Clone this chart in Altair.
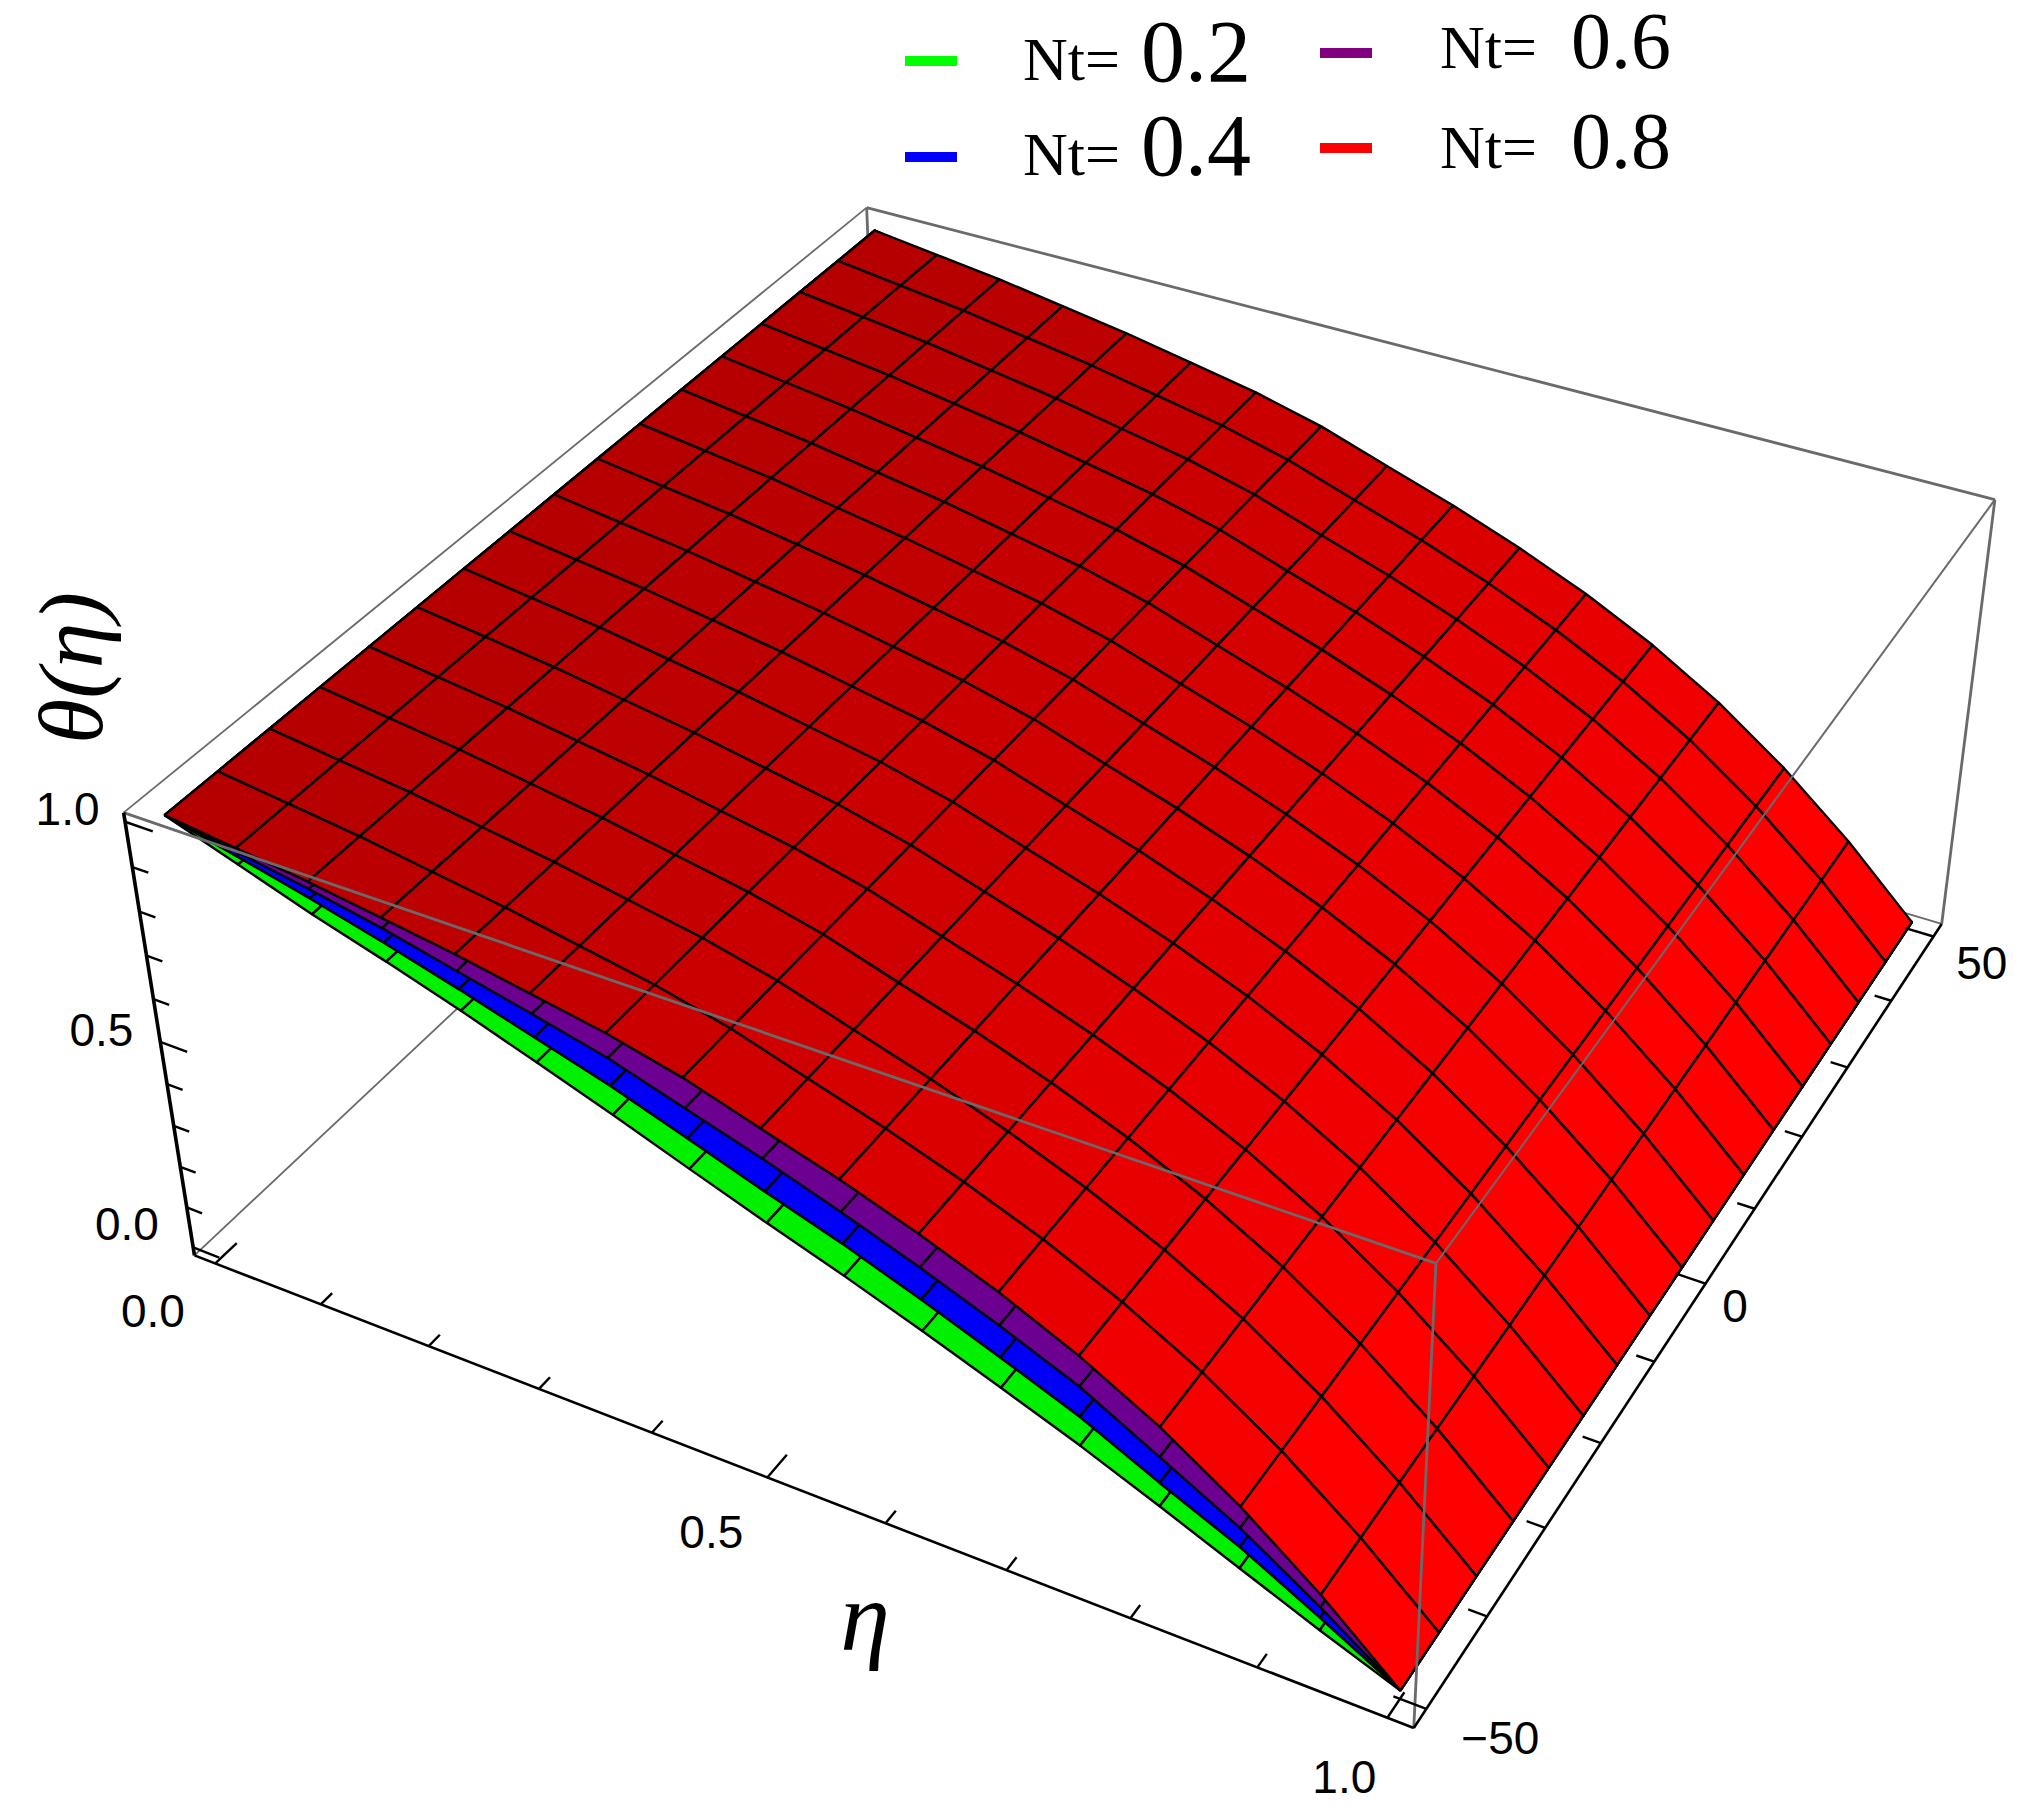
import numpy as np
import pandas as pd
import altair as alt

W, H = 2014, 1796
PAD = 0.02

# values
eta_grid = [0, .0625, .125, .1875, .25, .3125, .375, .4375, .5, .5625, .625, .6875, .75, .8125, .875, .9375, 1]
xi_grid = [-50, -43.75, -37.5, -31.25, -25, -18.75, -12.5, -6.25, 0, 6.25, 12.5, 18.75, 25, 31.25, 37.5, 43.75, 50]
theta_02 = [1, .944, .888, .838, .785, .727, .668, .606, .545, .487, .425, .36, .293, .22, .145, .07, 0]
theta_04 = [1, .962, .923, .88, .833, .783, .733, .675, .616, .56, .497, .43, .36, .275, .195, .1, 0]
theta_06 = [1, .972, .944, .912, .873, .835, .795, .742, .69, .632, .57, .503, .43, .335, .24, .125, 0]
theta_08 = [1, .98, .96, .935, .91, .88, .85, .81, .757, .705, .646, .579, .5, .405, .29, .155, 0]
nt_labels = ["0.2", "0.4", "0.6", "0.8"]
nt_colors = ["#00f000", "#0000f8", "#6c0090", "#ff0000"]
legend_colors = ["#00ff00", "#0000ff", "#800080", "#ff0000"]
eta_ticks = [0, .1, .2, .3, .4, .5, .6, .7, .8, .9, 1]
xi_ticks = [-50, -40, -30, -20, -10, 0, 10, 20, 30, 40, 50]
theta_ticks = [0, .1, .2, .3, .4, .5, .6, .7, .8, .9, 1]

# box corners seen in the image (u=eta, v=xi, w=theta in the unit box) -> full image pixels
S = 2030 / 1568
corners = [
    ((0, 0, 1), (95, 630)), ((0, 1, 1), (670, 160)), ((1, 1, 1), (1540, 385)), ((1, 0, 1), (1110, 975)),
    ((0, 0, 0), (150, 968)), ((1, 0, 0), (1092, 1335)), ((1, 1, 0), (1500, 715)),
]
rows, rhs = [], []
for (u, v, w), (sx, sy) in corners:
    X, Y = sx * S, sy * S
    rows.append([u, v, w, 1, 0, 0, 0, 0, -X * u, -X * v, -X * w]); rhs.append(X)
    rows.append([0, 0, 0, 0, u, v, w, 1, -Y * u, -Y * v, -Y * w]); rhs.append(Y)
P = np.linalg.lstsq(np.array(rows, float), np.array(rhs, float), rcond=None)[0]
P = np.append(P, 1).reshape(3, 4)


def cube(u, v, w):
    q = P @ np.array([u, v, w, 1.0])
    return float(q[0] / q[2]) - 8, float(q[1] / q[2]) - 8


def data3d(eta, xi, th):
    return cube((eta + PAD) / (1 + 2 * PAD), ((xi + 50) / 100 + PAD) / (1 + 2 * PAD), (th + PAD) / (1 + 2 * PAD))


def shade(eta):
    return "#%02x0000" % int(182 + 73 * min(1, eta / 0.9) ** 1.6)


features = []
for curve, base in zip([theta_02, theta_04, theta_06, theta_08], nt_colors):
    for j in range(len(xi_grid) - 2, -1, -1):
        for i in range(len(eta_grid) - 1):
            e0, e1 = eta_grid[i], eta_grid[i + 1]
            x0, x1 = xi_grid[j], xi_grid[j + 1]
            t0, t1 = curve[i], curve[i + 1]
            ring = [data3d(e0, x0, t0), data3d(e1, x0, t1), data3d(e1, x1, t1), data3d(e0, x1, t0), data3d(e0, x0, t0)]
            fill = shade((e0 + e1) / 2) if base == "#ff0000" else base
            features.append({"type": "Feature",
                             "geometry": {"type": "Polygon", "coordinates": [[list(p) for p in ring]]},
                             "properties": {"fill": fill}})

surface = alt.Chart(alt.Data(values=features)).mark_geoshape(
    stroke="#000000", strokeWidth=2.4, strokeJoin="bevel"
).encode(
    color=alt.Color("properties.fill:N", scale=None)
).project(type="identity", scale=1, translate=[0, 0])

xs = alt.Scale(domain=[0, W], range=[0, W], nice=False, zero=False)
ys = alt.Scale(domain=[0, H], range=[0, H], nice=False, zero=False)


def seg_df(pairs):
    out = []
    for a, b in pairs:
        pa, pb = cube(*a), cube(*b)
        out.append({"x": pa[0], "y": pa[1], "x2": pb[0], "y2": pb[1]})
    return pd.DataFrame(out)


def rules(df, color, width):
    return alt.Chart(df).mark_rule(stroke=color, strokeWidth=width).encode(
        x=alt.X("x:Q", scale=xs, axis=None), y=alt.Y("y:Q", scale=ys, axis=None), x2="x2:Q", y2="y2:Q")


back = rules(seg_df([((0, 0, 1), (0, 1, 1)), ((0, 0, 0), (0, 1, 0)), ((0, 1, 0), (1, 1, 0))]), "#6a6a6a", 1.8)
back2 = rules(seg_df([((0, 1, 1), (1, 1, 1)), ((0, 1, 1), (0, 1, 0)), ((1, 1, 1), (1, 1, 0))]), "#6a6a6a", 2.8)
front = rules(seg_df([((0, 0, 1), (1, 0, 1)), ((1, 0, 1), (1, 0, 0))]), "#6a6a6a", 2.8)
front2 = rules(seg_df([((1, 0, 1), (1, 1, 1))]), "#6a6a6a", 2.0)
axes_seg = rules(seg_df([((0, 0, 0), (1, 0, 0)), ((1, 0, 0), (1, 1, 0))]), "#000000", 2.6)
axis_z = rules(seg_df([((0, 0, 0), (0, 0, 1))]), "#000000", 3.6)

tick_pairs = []
for i, t in enumerate(eta_ticks):
    u = (t + PAD) / (1 + 2 * PAD)
    tick_pairs.append(((u, 0, 0), (u, .026 if i % 5 == 0 else .014, 0)))
for i, t in enumerate(xi_ticks):
    v = ((t + 50) / 100 + PAD) / (1 + 2 * PAD)
    tick_pairs.append(((1, v, 0), (.976 if i % 5 == 0 else .986, v, 0)))
for i, t in enumerate(theta_ticks):
    w = (t + PAD) / (1 + 2 * PAD)
    tick_pairs.append(((0, 0, w), (.024 if i % 5 == 0 else .014, 0, w)))
tick_layer = rules(seg_df(tick_pairs), "#000000", 2.4)


def text_layer(rows_, size, font="Liberation Sans", **kw):
    return alt.Chart(pd.DataFrame(rows_)).mark_text(font=font, fontSize=size, color="#000000", **kw).encode(
        x=alt.X("x:Q", scale=xs, axis=None), y=alt.Y("y:Q", scale=ys, axis=None), text="t:N")


def tick_label(point, text, dx, dy):
    return {"x": point[0] + dx, "y": point[1] + dy, "t": text}


labels = [
    tick_label(data3d(0, -50, 0), "0.0", -77, 72),
    tick_label(data3d(.5, -50, 0), "0.5", -70, 81),
    tick_label(data3d(1, -50, 0), "1.0", -56, 88),
    tick_label(data3d(1, -50, 0), "\u221250", 100, 49),
    tick_label(data3d(1, 0, 0), "0", 53, 40),
    tick_label(data3d(1, 50, 0), "50", 70, 43),
    tick_label(data3d(0, -50, 0), "0.0", -103, -15),
    tick_label(data3d(0, -50, .5), "0.5", -97, -3),
    tick_label(data3d(0, -50, 1), "1.0", -97, -4),
]
tick_text = text_layer(labels, 46, align="center", baseline="middle")

swatches = pd.DataFrame({
    "x": [905, 905, 1320, 1320], "x2": [957, 957, 1372, 1372],
    "y": [61, 157, 53, 148], "c": legend_colors,
})
swatches["x"] -= 8; swatches["x2"] -= 8; swatches["y"] -= 8
swatch_layer = alt.Chart(swatches).mark_rule(strokeWidth=10).encode(
    x=alt.X("x:Q", scale=xs, axis=None), x2="x2:Q", y=alt.Y("y:Q", scale=ys, axis=None),
    color=alt.Color("c:N", scale=None))

nt_text = text_layer([
    {"x": 1015, "y": 72, "t": "Nt="}, {"x": 1015, "y": 167, "t": "Nt="},
    {"x": 1432, "y": 60, "t": "Nt="}, {"x": 1432, "y": 160, "t": "Nt="},
], 62, font="Liberation Serif", align="left", baseline="alphabetic")
val_left = text_layer([
    {"x": 1133, "y": 73, "t": nt_labels[0]}, {"x": 1133, "y": 167, "t": nt_labels[1]},
], 88, font="Liberation Serif", align="left", baseline="alphabetic")
val_right = text_layer([
    {"x": 1563, "y": 60, "t": nt_labels[2]}, {"x": 1563, "y": 160, "t": nt_labels[3]},
], 80, font="Liberation Serif", align="left", baseline="alphabetic")

eta_title = text_layer([{"x": 857, "y": 1612, "t": "\u03b7"}], 100, font="Liberation Serif",
                       fontStyle="italic", align="center", baseline="middle")
theta_title = text_layer([{"x": 66, "y": 660, "t": "\u03b8(\u03b7)"}], 92, font="Liberation Serif",
                         fontStyle="italic", align="center", baseline="middle", angle=270)

chart = alt.layer(
    back, back2, surface, front, front2, axes_seg, axis_z, tick_layer, tick_text,
    swatch_layer, nt_text, val_left, val_right, eta_title, theta_title,
).properties(width=W, height=H, padding=0, autosize=alt.AutoSizeParams(type="none")
).configure_view(stroke=None)

chart.save("out.html", embed_options={"renderer": "svg", "actions": False})
